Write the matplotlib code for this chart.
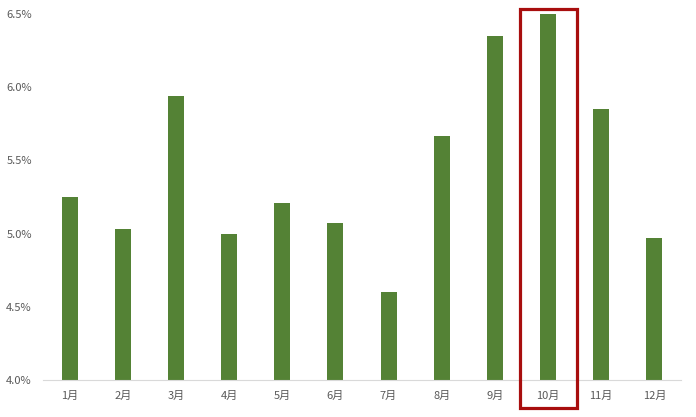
import matplotlib.pyplot as plt
from matplotlib.patches import Rectangle
from matplotlib.ticker import FuncFormatter

plt.rcParams['font.family'] = ['Noto Sans CJK SC', 'DejaVu Sans']

months = ['1月', '2月', '3月', '4月', '5月', '6月', '7月', '8月', '9月', '10月', '11月', '12月']
rates = [5.25, 5.03, 5.94, 5.00, 5.21, 5.07, 4.60, 5.67, 6.35, 6.50, 5.85, 4.97]
highlight = 9  # 10月

fig = plt.figure(figsize=(6.96, 4.17), dpi=100)
ax = fig.add_axes([0.0618, 0.0887, 0.9166, 0.8777])

x = range(len(months))
ax.bar(x, rates, width=0.3, color='#548235', zorder=2)

ax.set_xlim(-0.5, len(months) - 0.5)
ax.set_ylim(4.0, 6.5)
ax.set_yticks([4.0, 4.5, 5.0, 5.5, 6.0, 6.5])
ax.yaxis.set_major_formatter(FuncFormatter(lambda v, p: f'{v:.1f}%'))
ax.set_xticks(list(x))
ax.set_xticklabels(months)
ax.tick_params(length=0, colors='#595959', labelsize=8)
ax.tick_params(axis='y', pad=8)
ax.tick_params(axis='x', pad=8)

for s in ['top', 'right', 'left']:
    ax.spines[s].set_visible(False)
ax.spines['bottom'].set_color('#D9D9D9')

# red frame round the highlighted month
ax.add_patch(Rectangle((highlight - 0.535, 3.812), 1.07, 2.719, fill=False,
                       edgecolor='#A80E0E', linewidth=2.3, clip_on=False, zorder=3))

fig.savefig('out.png', dpi=100)
